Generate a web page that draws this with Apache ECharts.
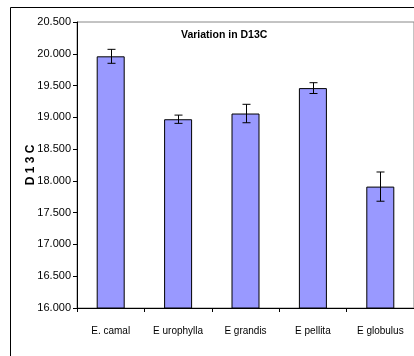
<!DOCTYPE html>
<html>
<head>
<meta charset="utf-8">
<script src="https://cdn.jsdelivr.net/npm/echarts@6/dist/echarts.min.js"></script>
<style>
  html, body { margin: 0; padding: 0; background: #fff; }
  #chart_div { width: 414px; height: 356px; }
</style>
</head>
<body>
<div id="chart_div"></div>
<script>
// species and mean D13C with error (+/-)
var species = ['E. camal', 'E urophylla', 'E grandis', 'E pellita', 'E globulus'];
var meanD13C = [19.96, 18.97, 19.06, 19.46, 17.91];
var errD13C = [0.11, 0.065, 0.145, 0.085, 0.23];
var yTicks = { min: 16, max: 20.5, step: 0.5 };

var font = "'Liberation Sans', Arial, sans-serif";

var errData = species.map(function (s, i) {
  return [i, meanD13C[i] - errD13C[i], meanD13C[i] + errD13C[i]];
});

var myChart = echarts.init(document.getElementById('chart_div'));
myChart.setOption({
  animation: false,
  title: {
    text: 'Variation in D13C',
    left: 176,
    top: 25,
    textStyle: { fontFamily: font, fontSize: 10.5, fontWeight: 'bold', color: '#000' }
  },
  graphic: [{
    type: 'rect',
    shape: { x: 10.5, y: 7.5, width: 420, height: 360 },
    style: { fill: 'none', stroke: '#000', lineWidth: 1 },
    z: -1
  }],
  grid: {
    left: 77, top: 22, right: -2, bottom: 48,
    show: true, borderColor: '#888', borderWidth: 1
  },
  xAxis: {
    type: 'category',
    data: species,
    axisLine: { lineStyle: { color: '#000' } },
    axisTick: { show: true, length: 4, lineStyle: { color: '#000' } },
    axisLabel: { margin: 18, color: '#000', fontFamily: font, fontSize: 10, interval: 0 }
  },
  yAxis: {
    type: 'value',
    min: yTicks.min,
    max: yTicks.max,
    interval: yTicks.step,
    name: 'D 1 3 C',
    nameLocation: 'middle',
    nameGap: 40,
    nameMoveOverlap: false,
    nameTextStyle: { fontFamily: font, fontSize: 12, fontWeight: 'bold', color: '#000' },
    axisLine: { show: true, lineStyle: { color: '#000' } },
    axisTick: { show: true, length: 4, lineStyle: { color: '#000' } },
    splitLine: { show: false },
    axisLabel: {
      margin: 6, color: '#000', fontFamily: font, fontSize: 11,
      formatter: function (v) { return v.toFixed(3); }
    }
  },
  series: [{
    type: 'bar',
    data: meanD13C,
    barWidth: 28,
    itemStyle: { color: '#9999FF', borderColor: '#000', borderWidth: 1 }
  }, {
    type: 'custom',
    data: errData,
    z: 10,
    renderItem: function (params, api) {
      var lo = api.coord([api.value(0), api.value(1)]);
      var hi = api.coord([api.value(0), api.value(2)]);
      var x = Math.round(lo[0]) + 0.5;
      var w = 4;
      var st = { stroke: '#000', lineWidth: 1 };
      return {
        type: 'group',
        children: [
          { type: 'line', shape: { x1: x, y1: hi[1], x2: x, y2: lo[1] }, style: st },
          { type: 'line', shape: { x1: x - w, y1: hi[1], x2: x + w, y2: hi[1] }, style: st },
          { type: 'line', shape: { x1: x - w, y1: lo[1], x2: x + w, y2: lo[1] }, style: st }
        ]
      };
    }
  }]
});
</script>
</body>
</html>
